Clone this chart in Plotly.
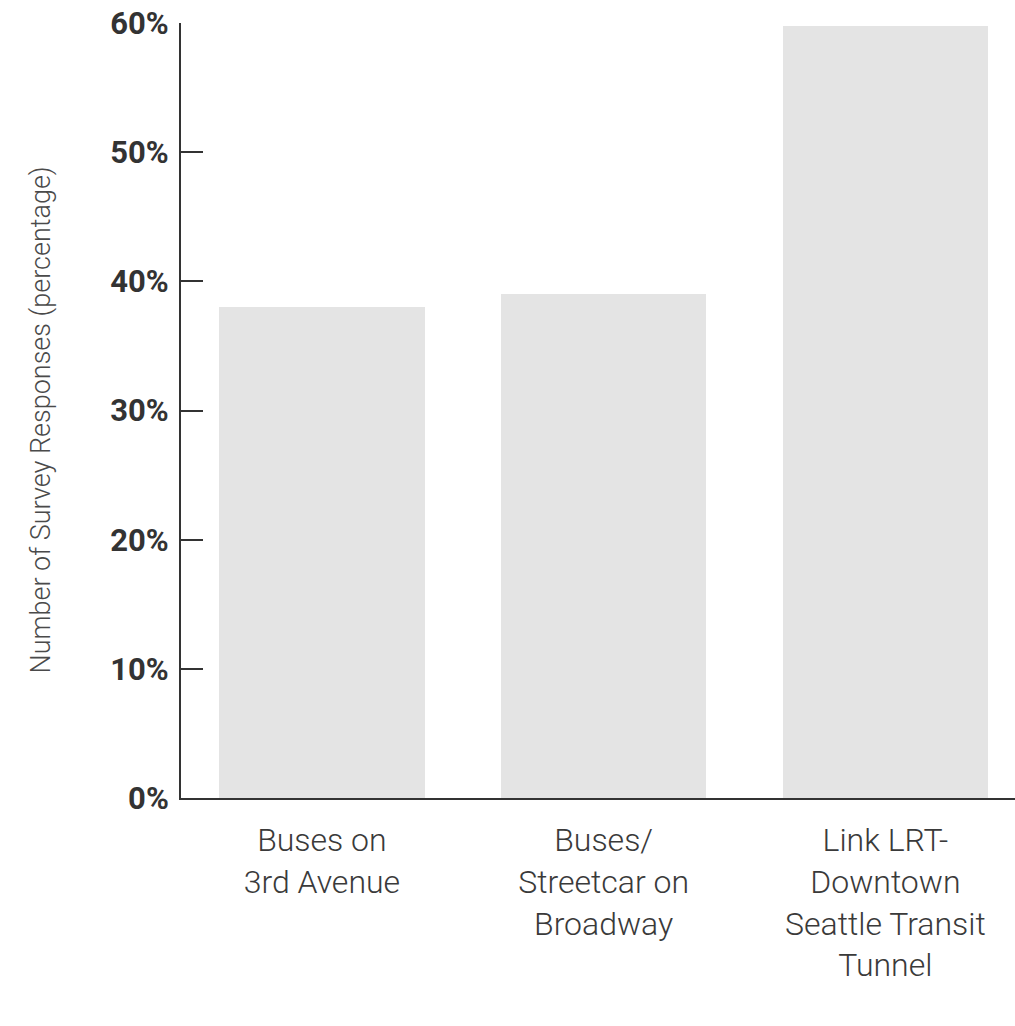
import plotly.graph_objects as go

categories = ["Buses on<br>3rd Avenue", "Buses/<br>Streetcar on<br>Broadway",
              "Link LRT-<br>Downtown<br>Seattle Transit<br>Tunnel"]
values = [38, 39, 59.8]
tick_vals = [0, 10, 20, 30, 40, 50, 60]
tick_text = ["0%", "10%", "20%", "30%", "40%", "50%", "60%"]
y_title = "Number of Survey Responses (percentage)"

FONT = "Roboto, sans-serif"

fig = go.Figure()
fig.add_trace(go.Bar(x=[0, 1, 2], y=values, width=0.73,
                     marker=dict(color="#e4e4e4", line=dict(width=0))))

fig.update_layout(
    width=1015, height=1026,
    margin=dict(l=181, r=0, t=23, b=228),
    paper_bgcolor="white", plot_bgcolor="white",
    showlegend=False,
    font=dict(family=FONT, color="#3a3a3a"),
    bargap=0,
)
fig.update_xaxes(
    tickmode="array", tickvals=[0, 1, 2], ticktext=categories,
    range=[-0.5, 2.46], showgrid=False, zeroline=False,
    showline=True, linecolor="#333333", linewidth=2,
    ticks="outside", ticklen=13, tickcolor="rgba(0,0,0,0)",
    tickfont=dict(family=FONT, size=32, color="#3a3a3a", weight=300),
    tickangle=0,
)
fig.update_yaxes(
    tickmode="array", tickvals=tick_vals, ticktext=tick_text,
    range=[0, 60], showgrid=False, zeroline=False,
    showline=True, linecolor="#333333", linewidth=2,
    ticks="inside", ticklen=22, tickwidth=2, tickcolor="#333333",
    tickfont=dict(family=FONT, size=31, color="#333333", weight="bold"),
    ticklabelstandoff=4,
)
fig.add_annotation(
    text=y_title, textangle=-90, xref="paper", yref="paper",
    x=0, y=0.5, xshift=-141, yshift=-10, xanchor="center", yanchor="middle",
    showarrow=False, font=dict(family=FONT, size=27, color="#4a4a4a", weight=300),
)
fig.write_html("out.html")
